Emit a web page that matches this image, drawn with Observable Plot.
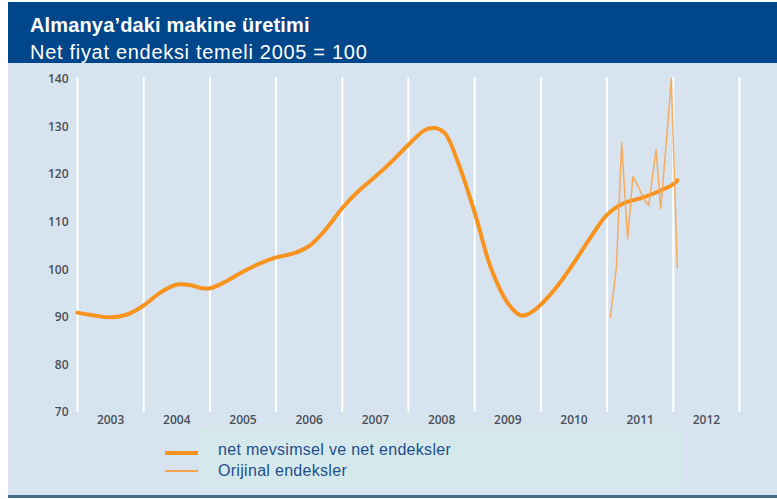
<!DOCTYPE html>
<html>
<head>
<meta charset="utf-8">
<script src="https://cdn.jsdelivr.net/npm/d3@7"></script>
<script src="https://cdn.jsdelivr.net/npm/@observablehq/plot@0.6"></script>
<style>
  body { margin: 0; background: #ffffff; }
  #wrap { position: relative; width: 777px; height: 499px; overflow: hidden; font-family: "Liberation Sans", Arial, sans-serif; }
  #bg { position: absolute; left: 8px; top: 63px; width: 769px; height: 432px; background: #d7e4ef; }
  #band { position: absolute; left: 8px; top: 2px; width: 769px; height: 61px; background: #00468b; }
  #title { position: absolute; left: 22px; top: 13px; font-size: 20px; line-height: 20px; letter-spacing: 0.15px; font-weight: bold; color: #ffffff; white-space: nowrap; }
  #subtitle { position: absolute; left: 22px; top: 39.5px; font-size: 20px; line-height: 20px; letter-spacing: 0.7px; color: #ffffff; white-space: nowrap; }
  #chart { position: absolute; left: 8px; top: 63px; }
  #legbox { position: absolute; left: 199px; top: 428px; width: 484px; height: 59px; background: #d5e9ec; }
  .legtxt { position: absolute; left: 218px; font-size: 16px; line-height: 16px; letter-spacing: 0.3px; color: #1f4e8c; white-space: nowrap; }
  .legline { position: absolute; left: 165px; width: 33px; }
  #bottom { position: absolute; left: 8px; top: 495px; width: 769px; height: 3px; background: #3e6e8a; }
</style>
</head>
<body>
<div id="wrap">
  <div id="bg"></div>
  <div id="band">
    <div id="title">Almanya’daki makine üretimi</div>
    <div id="subtitle">Net fiyat endeksi temeli 2005 = 100</div>
  </div>
  <div id="chart"></div>
  <div id="legbox"></div>
  <div class="legline" style="top:451px;height:4px;background:#f7931e;"></div>
  <div class="legline" style="top:470px;height:2px;background:#f7a54f;"></div>
  <div class="legtxt" style="top:442px;">net mevsimsel ve net endeksler</div>
  <div class="legtxt" style="top:463px;">Orijinal endeksler</div>
  <div id="bottom"></div>
</div>
<script>
// Seasonally adjusted (smooth) series: decimal year, index value
const smoothT = [2003.0, 2003.25, 2003.5, 2003.75, 2004.0, 2004.25, 2004.5, 2004.7, 2004.85, 2005.0,
  2005.25, 2005.5, 2005.75, 2006.0, 2006.25, 2006.5, 2006.75, 2007.0, 2007.25, 2007.5,
  2007.75, 2008.0, 2008.25, 2008.4, 2008.55, 2008.75, 2009.0, 2009.25, 2009.5, 2009.7,
  2009.85, 2010.0, 2010.25, 2010.5, 2010.75, 2011.0, 2011.25, 2011.5, 2011.75, 2012.0, 2012.06];
const smoothV = [91.0, 90.4, 90.0, 90.6, 92.5, 95.2, 96.9, 96.8, 96.2, 96.1,
  97.6, 99.6, 101.3, 102.6, 103.4, 105.0, 108.5, 113.0, 116.6, 119.6,
  122.8, 126.3, 129.4, 129.8, 128.7, 122.5, 112.0, 100.2, 93.0, 90.4,
  91.0, 92.7, 96.6, 101.5, 106.8, 111.6, 114.0, 115.0, 116.3, 118.0, 118.8];

// Original (unadjusted) monthly series
const origT = [2011.05, 2011.14, 2011.22, 2011.31, 2011.39, 2011.47, 2011.55, 2011.63, 2011.74, 2011.81, 2011.89, 2011.97, 2012.06];
const origV = [90.0, 100.5, 126.6, 106.6, 119.6, 117.5, 115.0, 113.5, 125.3, 112.9, 126.0, 140.2, 100.5];

const yearBounds = [2003, 2004, 2005, 2006, 2007, 2008, 2009, 2010, 2011, 2012, 2013];
const yearLabels = ["2003", "2004", "2005", "2006", "2007", "2008", "2009", "2010", "2011", "2012"];
const yTicks = [70, 80, 90, 100, 110, 120, 130, 140];

const yearMid = yearLabels.map(s => +s + 0.5);

const chart = Plot.plot({
  width: 769,
  height: 364,
  marginLeft: 69,
  marginRight: 38,
  marginTop: 16,
  marginBottom: 15,
  style: { background: "transparent", fontFamily: "'Open Sans', sans-serif", overflow: "visible" },
  x: { domain: [2003, 2013] },
  y: { domain: [70, 140] },
  marks: [
    Plot.ruleX(yearBounds, { y1: 70, y2: 140.4, stroke: "#ffffff", strokeWidth: 2 }),
    Plot.axisY(yTicks, { tickSize: 0, tickPadding: 9, fontSize: 12, fontWeight: 600, fill: "#4a4f57", label: null }),
    Plot.axisX(yearMid, { tickSize: 0, tickPadding: 3, fontSize: 12, fontWeight: 600, fill: "#4a4f57", label: null,
      tickFormat: d => yearLabels[Math.floor(d) - 2003] }),
    Plot.line(smoothV, { x: smoothT, y: smoothV, stroke: "#f7931e", strokeWidth: 4, curve: "catmull-rom", strokeLinecap: "round" }),
    Plot.line(origV, { x: origT, y: origV, stroke: "#f7a54f", strokeWidth: 1.5, strokeOpacity: 0.9 })
  ]
});
document.getElementById("chart").appendChild(chart);
</script>
</body>
</html>
